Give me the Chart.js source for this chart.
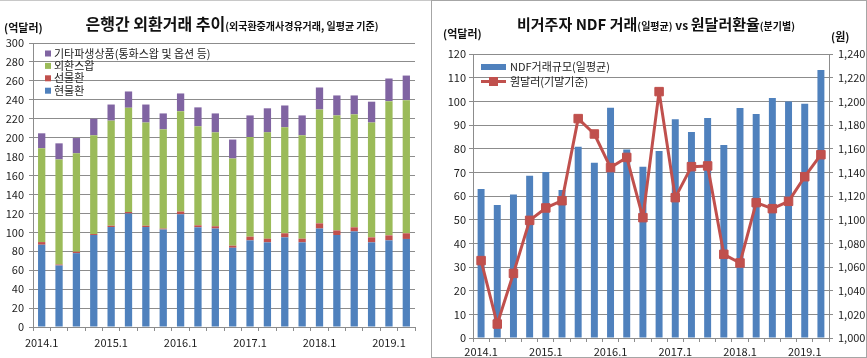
<!DOCTYPE html>
<html>
<head>
<meta charset="utf-8">
<script src="https://cdn.jsdelivr.net/npm/chart.js@4"></script>
<style>
  body { margin: 0; background: #fff; width: 867px; height: 358px; overflow: hidden; position: relative; }
  #leftChart { position: absolute; left: 0; top: 0; }
  #rightChart { position: absolute; left: 432px; top: 0; }
  .frame { position: absolute; left: 431px; top: 0; width: 434px; height: 356px; border: 1px solid #a6a6a6; pointer-events: none; }
  .topline { position: absolute; left: 0; top: 0; width: 431px; height: 1px; background: #c8c8c8; }
</style>
</head>
<body>
<div class="topline"></div>
<canvas id="leftChart" width="431" height="358"></canvas>
<canvas id="rightChart" width="434" height="358"></canvas>
<div class="frame"></div>
<script>
const quarters = ['2014.1', '2014.2', '2014.3', '2014.4', '2015.1', '2015.2', '2015.3', '2015.4',
                  '2016.1', '2016.2', '2016.3', '2016.4', '2017.1', '2017.2', '2017.3', '2017.4',
                  '2018.1', '2018.2', '2018.3', '2018.4', '2019.1', '2019.2'];

// 은행간 외환거래 (억달러, 일평균)
const spot = [86.9, 65.0, 78.0, 97.2, 105.6, 120.0, 105.6, 103.0, 119.0, 105.3, 104.0, 83.7, 91.5, 89.4, 94.7, 89.4, 104.0, 97.2, 101.0, 89.4, 91.5, 93.0];
const forward = [2.8, 1.0, 1.5, 1.0, 1.4, 1.5, 1.4, 1.0, 3.0, 2.1, 2.4, 2.2, 3.9, 3.9, 4.3, 3.9, 5.5, 4.8, 4.3, 5.3, 5.3, 6.0];
const fxSwap = [99.1, 111.0, 104.0, 104.3, 111.0, 110.1, 109.0, 104.8, 106.0, 104.6, 99.2, 92.1, 105.3, 112.3, 112.0, 109.2, 120.3, 121.5, 119.3, 121.3, 141.8, 140.6];
const otherDeriv = [15.8, 17.0, 16.1, 17.5, 17.0, 17.2, 19.0, 16.8, 18.7, 20.0, 20.0, 20.0, 22.8, 25.4, 23.0, 21.0, 23.2, 21.1, 20.0, 22.0, 23.9, 26.0];

// 비거주자 NDF 거래 (억달러) / 원달러 환율 (원)
const ndfVolume = [63.0, 56.2, 60.6, 68.6, 70.1, 62.5, 80.8, 74.0, 97.3, 79.7, 72.4, 79.0, 92.4, 87.0, 93.0, 81.5, 97.2, 94.6, 101.4, 99.9, 99.0, 113.2];
const usdKrw = [1065.4, 1011.8, 1054.6, 1099.4, 1109.9, 1116.0, 1185.4, 1172.4, 1144.0, 1152.6, 1101.7, 1208.2, 1118.6, 1144.8, 1145.4, 1070.7, 1063.4, 1114.4, 1109.3, 1115.5, 1136.3, 1154.9];

const FONT = '"Noto Sans CJK KR", sans-serif';
const GRID = '#8c8c8c';
const BLUE = '#4F81BD', RED = '#C0504D', GREEN = '#9BBB59', PURPLE = '#8064A2';

Chart.defaults.font.family = FONT;
Chart.defaults.font.size = 11;
Chart.defaults.color = '#222';
Chart.defaults.animation = false;

function quarterTick(value, index) {
    return quarters[index].endsWith('.1') ? quarters[index] : '';
}

// draw a title made of several parts with different sizes, centred on cx
function drawParts(ctx, parts, cx, baseline) {
    let total = 0;
    parts.forEach(p => { ctx.font = p.font; p.w = ctx.measureText(p.text).width; total += p.w; });
    let x = cx - total / 2;
    ctx.textBaseline = 'alphabetic';
    ctx.textAlign = 'left';
    ctx.fillStyle = '#111';
    parts.forEach(p => { ctx.font = p.font; ctx.fillText(p.text, x, baseline); x += p.w; });
}

const leftDecor = {
    id: 'leftDecor',
    afterDraw(chart) {
        const ctx = chart.ctx;
        ctx.save();
        drawParts(ctx, [
            { text: '은행간 외환거래 추이', font: 'bold 16px ' + FONT },
            { text: '(외국환중개사경유거래, 일평균 기준)', font: 'bold 10px ' + FONT }
        ], 232, 30);
        ctx.font = 'bold 11px ' + FONT;
        ctx.fillText('(억달러)', 4, 32);

        // legend inside plot, top series first
        const ds = chart.data.datasets.slice().reverse();
        ctx.font = '11px ' + FONT;
        ctx.textBaseline = 'middle';
        ds.forEach((d, i) => {
            const y = 53.5 + i * 12.4;
            ctx.fillStyle = d.backgroundColor;
            ctx.fillRect(45, y - 3, 6, 6);
            ctx.fillStyle = '#222';
            ctx.fillText(d.label, 54, y);
        });
        ctx.restore();
    }
};

const rightDecor = {
    id: 'rightDecor',
    afterDraw(chart) {
        const ctx = chart.ctx;
        ctx.save();
        drawParts(ctx, [
            { text: '비거주자 NDF 거래', font: 'bold 15px ' + FONT },
            { text: '(일평균)', font: 'bold 10px ' + FONT },
            { text: ' vs ', font: 'bold 12px ' + FONT },
            { text: '원달러환율', font: 'bold 15px ' + FONT },
            { text: '(분기별)', font: 'bold 10px ' + FONT }
        ], 224, 30);
        ctx.font = 'bold 11px ' + FONT;
        ctx.fillText('(억달러)', 11, 38);
        ctx.fillText('(원)', 399, 41);

        const ds = chart.data.datasets;
        ctx.font = '11px ' + FONT;
        ctx.textBaseline = 'middle';
        // bar item
        ctx.fillStyle = BLUE;
        ctx.fillRect(49, 64, 25, 6);
        ctx.fillStyle = '#222';
        ctx.fillText(ds[0].label, 78, 67);
        // line item
        ctx.strokeStyle = RED;
        ctx.lineWidth = 3;
        ctx.beginPath();
        ctx.moveTo(49, 81.5);
        ctx.lineTo(74, 81.5);
        ctx.stroke();
        ctx.fillStyle = RED;
        ctx.fillRect(57, 77, 9, 9);
        ctx.fillStyle = '#222';
        ctx.fillText(ds[1].label, 78, 81.5);
        ctx.restore();
    }
};

new Chart(document.getElementById('leftChart'), {
    type: 'bar',
    data: {
        labels: quarters,
        datasets: [
            { label: '현물환', data: spot, backgroundColor: BLUE },
            { label: '선물환', data: forward, backgroundColor: RED },
            { label: '외환스왑', data: fxSwap, backgroundColor: GREEN },
            { label: '기타파생상품(통화스왑 및 옵션 등)', data: otherDeriv, backgroundColor: PURPLE }
        ]
    },
    options: {
        responsive: false,
        devicePixelRatio: 1,
        layout: { padding: { top: 43, right: 16, bottom: 0, left: 0 } },
        datasets: { bar: { barPercentage: 0.42, categoryPercentage: 1 } },
        plugins: { legend: { display: false }, tooltip: { enabled: false } },
        scales: {
            x: {
                stacked: true,
                grid: { drawOnChartArea: false, tickLength: 4, color: GRID, offset: true },
                border: { color: GRID },
                ticks: { autoSkip: false, maxRotation: 0, padding: 5, callback: quarterTick },
                afterFit(scale) { scale.height = 31; }
            },
            y: {
                stacked: true,
                min: 0,
                max: 300,
                ticks: { stepSize: 20, padding: 5 },
                grid: { color: GRID, tickLength: 4 },
                border: { color: GRID },
                afterFit(scale) { scale.width = 33; }
            }
        }
    },
    plugins: [leftDecor]
});

new Chart(document.getElementById('rightChart'), {
    type: 'bar',
    data: {
        labels: quarters,
        datasets: [
            {
                type: 'bar', label: 'NDF거래규모(일평균)', data: ndfVolume,
                backgroundColor: BLUE, yAxisID: 'y', order: 2,
                barPercentage: 0.43, categoryPercentage: 1
            },
            {
                type: 'line', label: '원달러(기말기준)', data: usdKrw,
                borderColor: RED, backgroundColor: RED, borderWidth: 3,
                borderJoinStyle: 'round', borderCapStyle: 'round',
                pointStyle: 'rect', pointRadius: 6, pointBorderWidth: 1,
                pointBackgroundColor: RED, pointBorderColor: RED,
                yAxisID: 'y1', order: 1, tension: 0
            }
        ]
    },
    options: {
        responsive: false,
        devicePixelRatio: 1,
        layout: { padding: { top: 54, right: 0, bottom: 0, left: 0 } },
        plugins: { legend: { display: false }, tooltip: { enabled: false } },
        scales: {
            x: {
                grid: { drawOnChartArea: false, tickLength: 4, color: GRID, offset: true },
                border: { color: GRID },
                ticks: { autoSkip: false, maxRotation: 0, padding: 3, callback: quarterTick },
                afterFit(scale) { scale.height = 20; }
            },
            y: {
                position: 'left',
                min: 0,
                max: 120,
                ticks: { stepSize: 10, padding: 3 },
                grid: { color: GRID, tickLength: 4 },
                border: { color: GRID },
                afterFit(scale) { scale.width = 41; }
            },
            y1: {
                position: 'right',
                min: 1000,
                max: 1240,
                ticks: {
                    stepSize: 20, padding: 5,
                    callback: function(value) { return value.toLocaleString('en-US'); }
                },
                grid: { drawOnChartArea: false, tickLength: 4, color: GRID },
                border: { color: GRID },
                afterFit(scale) { scale.width = 37; }
            }
        }
    },
    plugins: [rightDecor]
});
</script>
</body>
</html>
